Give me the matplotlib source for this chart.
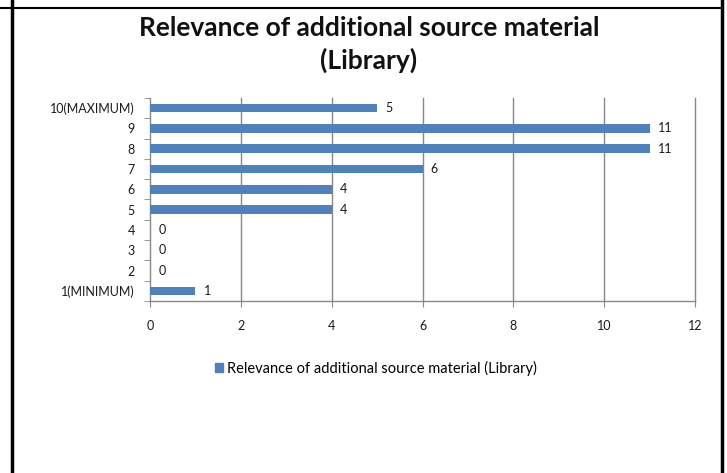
import matplotlib
matplotlib.use("Agg")
import matplotlib.pyplot as plt
from matplotlib.lines import Line2D
from matplotlib.patches import Patch
import numpy as np

categories = ["1(MINIMUM)", "2", "3", "4", "5", "6", "7", "8", "9", "10(MAXIMUM)"]
values = [1, 0, 0, 0, 4, 4, 6, 11, 11, 5]
xticks = [0, 2, 4, 6, 8, 10, 12]
title = "Relevance of additional source material\n(Library)"
series_name = "Relevance of additional source material (Library)"

bar_color = "#4F81BD"
font = "Lato"

fig = plt.figure(figsize=(7.27, 4.73), dpi=100)
ax = fig.add_axes([150/727, 1-301/473, 545/727, 203/473])

y = np.arange(len(categories))
ax.barh(y, values, height=0.42, color=bar_color, zorder=3)
for yi, v in zip(y, values):
    ax.text(v + 0.18, yi, str(v), va="center", ha="left", fontsize=9,
            family=font, color="#1a1a1a", zorder=4)

ax.set_xlim(0, 12)
ax.set_ylim(-0.5, len(categories) - 0.5)
ax.set_xticks(xticks)
ax.set_xticklabels([str(t) for t in xticks], family=font, fontsize=9, color="#1a1a1a")
ax.set_yticks(y)
ax.set_yticklabels(categories, family=font, fontsize=9, color="#1a1a1a")
ax.set_yticks(np.arange(-0.5, len(categories)), minor=True)
ax.tick_params(axis="y", which="major", length=0, pad=11)
ax.tick_params(axis="y", which="minor", length=4, color="#888888", direction="out")
ax.tick_params(axis="x", which="major", length=4, color="#888888", direction="out", pad=10)

for t in xticks[1:]:
    ax.axvline(t, color="#888888", linewidth=1.0, zorder=0, clip_on=False)
for s in ["top", "right"]:
    ax.spines[s].set_visible(False)
for s in ["left", "bottom"]:
    ax.spines[s].set_color("#888888")
    ax.spines[s].set_linewidth(1.0)

fig.text(369/727, 1-44.5/473, title, ha="center", va="center", fontsize=19,
         fontweight="bold", family=font, color="#111111", linespacing=1.33)

handles = [Patch(color=bar_color, label=series_name)]
fig.legend(handles=handles, loc="center", bbox_to_anchor=(376/727, 1-368/473),
           frameon=False, prop={"family": font, "size": 10.5},
           handlelength=0.5, handleheight=0.5, handletextpad=0.3)

# frame lines (table borders)
fig.add_artist(Line2D([0, 722/727], [1-8/473, 1-8/473], color="black", lw=1.5,
                      transform=fig.transFigure))
fig.add_artist(Line2D([12/727, 12/727], [0, 1], color="black", lw=2.5,
                      transform=fig.transFigure))
fig.add_artist(Line2D([722/727, 722/727], [0, 1], color="black", lw=2.5,
                      transform=fig.transFigure))

fig.savefig("out.png", dpi=100)
